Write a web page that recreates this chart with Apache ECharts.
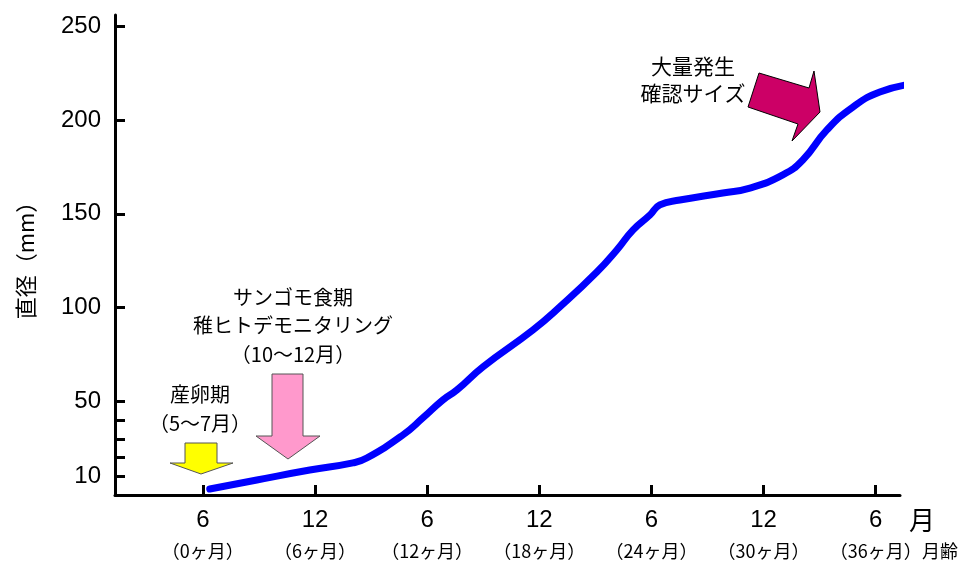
<!DOCTYPE html>
<html>
<head>
<meta charset="utf-8">
<script src="https://cdn.jsdelivr.net/npm/echarts@6/dist/echarts.min.js"></script>
<style>
    html, body { margin: 0; padding: 0; background: #fff; }
    #chart { width: 964px; height: 567px; }
</style>
</head>
<body>
<div id="chart"></div>
<script>
    // 月齢（0 = 6月）と直径(mm)
    const ageMonths = [0.37, 2.89, 5.72, 8.03, 8.77, 10.7, 11.77, 12.84, 13.59, 14.98, 17.66, 19.1, 21.08, 22.15, 23.01, 23.92, 24.45, 25.52, 27.82, 29.27, 31.03, 32.1, 33.39, 34.78, 36.22, 37.99];
    const diameter = [3.2, 8.0, 13.3, 17.1, 19.7, 32.0, 41.1, 50.7, 56.0, 68.3, 88.0, 100.3, 118.9, 130.7, 141.3, 149.3, 154.7, 157.3, 161.1, 163.7, 170.7, 178.7, 194.7, 206.9, 214.9, 219.2];

    // 軸目盛
    const xTickValues = [0, 6, 12, 18, 24, 30, 36];
    const monthLabels = ['6', '12', '6', '12', '6', '12', '6'];
    const ageLabels = ['（0ヶ月）', '（6ヶ月）', '（12ヶ月）', '（18ヶ月）', '（24ヶ月）', '（30ヶ月）', '（36ヶ月）'];
    const yTickValues = [10, 20, 30, 40, 50, 100, 150, 200, 250];
    const yLabelValues = [10, 50, 100, 150, 200, 250];

    const jpFont = '"Noto Sans CJK JP", sans-serif';
    const numFont = '"Liberation Sans", Arial, sans-serif';

    const chart = echarts.init(document.getElementById('chart'));

    const option = {
        backgroundColor: '#fff',
        animation: false,
        grid: {
            left: 115,
            right: 64,
            top: 15,
            bottom: 72,
            containLabel: false,
            outerBoundsMode: 'none'
        },
        xAxis: {
            type: 'value',
            min: -4.7,
            max: 37.3,
            splitLine: { show: false },
            axisLine: { show: true, onZero: false, lineStyle: { color: '#000', width: 3 } },
            axisTick: {
                show: true,
                inside: true,
                length: 10,
                customValues: xTickValues,
                lineStyle: { color: '#000', width: 3 }
            },
            axisLabel: {
                show: true,
                margin: 10,
                customValues: xTickValues,
                formatter: (v) => {
                    const i = xTickValues.indexOf(v);
                    return `{n|${monthLabels[i]}}\n{a|${ageLabels[i]}}`;
                },
                rich: {
                    n: { fontSize: 24, fontFamily: numFont, color: '#000', lineHeight: 30 },
                    a: { fontSize: 18, fontFamily: jpFont, color: '#000', lineHeight: 32 }
                }
            }
        },
        yAxis: {
            type: 'value',
            min: 0,
            max: 256,
            name: '直径（mm）',
            nameLocation: 'middle',
            nameGap: 78,
            nameRotate: 90,
            nameTextStyle: { fontSize: 22, fontFamily: jpFont, color: '#000' },
            splitLine: { show: false },
            axisLine: { show: true, onZero: false, lineStyle: { color: '#000', width: 3 } },
            axisTick: {
                show: true,
                inside: true,
                length: 10,
                customValues: yTickValues,
                lineStyle: { color: '#000', width: 3 }
            },
            axisLabel: {
                show: true,
                margin: 14,
                customValues: yLabelValues,
                fontSize: 24,
                fontFamily: numFont,
                color: '#000'
            }
        },
        series: [
            {
                type: 'line',
                data: ageMonths.map((m, i) => [m, diameter[i]]),
                smooth: 0.5,
                showSymbol: false,
                clip: false,
                lineStyle: { color: '#0000FF', width: 7, cap: 'round', join: 'round' }
            }
        ],
        graphic: [
            // 産卵期 矢印
            {
                type: 'polygon',
                shape: { points: [[185, 443], [217, 443], [217, 463], [233, 463], [201, 474], [170, 463], [185, 463]] },
                style: { fill: '#FFFF00', stroke: '#555', lineWidth: 1 }
            },
            // サンゴモ食期 矢印
            {
                type: 'polygon',
                shape: { points: [[272, 374], [303, 374], [303, 436], [320, 436], [288, 459], [256, 436], [272, 436]] },
                style: { fill: '#FF99CC', stroke: '#555', lineWidth: 1 }
            },
            // 大量発生 矢印
            {
                type: 'polygon',
                shape: { points: [[759, 73], [809, 88], [814, 71], [820, 112], [792, 141], [798, 124], [748, 107]] },
                style: { fill: '#CC0066', stroke: '#000', lineWidth: 1 }
            },
            {
                type: 'text',
                style: {
                    text: '産卵期\n（5〜7月）',
                    x: 200, y: 380,
                    align: 'center',
                    font: `20px ${jpFont}`,
                    lineHeight: 29,
                    fill: '#000'
                }
            },
            {
                type: 'text',
                style: {
                    text: 'サンゴモ食期\n稚ヒトデモニタリング\n（10〜12月）',
                    x: 293, y: 283,
                    align: 'center',
                    font: `20px ${jpFont}`,
                    lineHeight: 28.5,
                    fill: '#000'
                }
            },
            {
                type: 'text',
                style: {
                    text: '大量発生\n確認サイズ',
                    x: 693, y: 53,
                    align: 'center',
                    font: `21px ${jpFont}`,
                    lineHeight: 27,
                    fill: '#000'
                }
            },
            {
                type: 'text',
                style: {
                    text: '月',
                    x: 922, y: 520,
                    align: 'center',
                    verticalAlign: 'middle',
                    font: `26px ${jpFont}`,
                    fill: '#000'
                }
            },
            {
                type: 'text',
                style: {
                    text: '月齢',
                    x: 922, y: 551,
                    align: 'left',
                    verticalAlign: 'middle',
                    font: `18px ${jpFont}`,
                    fill: '#000'
                }
            }
        ]
    };

    chart.setOption(option);
</script>
</body>
</html>
